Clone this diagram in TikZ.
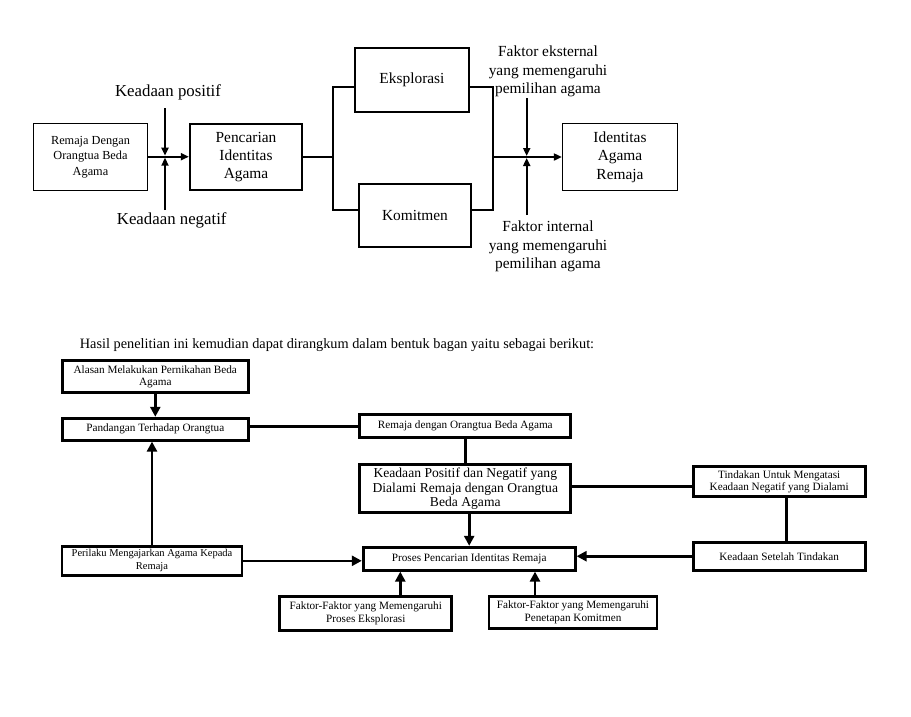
\documentclass[tikz,border=0pt]{standalone}
\usepackage{fontspec}
\setmainfont{Liberation Serif}
\usetikzlibrary{arrows.meta}

\begin{document}
\begin{tikzpicture}[x=1pt, y=-1pt,
	kotak/.style={draw, line width=#1, align=center, inner sep=0pt},
	kotak/.default=2pt,
	besar/.style={font=\fontsize{15.4}{18.4}\selectfont},
	kecil/.style={font=\fontsize{11.2}{12.7}\selectfont},
	panah/.style={-{Triangle[length=8pt, width=7pt]}, line width=1.9pt},
	panahb/.style={-{Triangle[length=10pt, width=10pt]}, line width=2.6pt}]
	\useasboundingbox (0,0) rectangle (911,716);
	% bagan pertama
	\node [kotak=1.6pt, minimum width=114pt, minimum height=67pt, font=\fontsize{12.3}{15.7}\selectfont] (rdoa) at (90.5,157) {Remaja Dengan\\Orangtua Beda\\Agama};
	\node [kotak=2.3pt, besar, minimum width=112pt, minimum height=66pt] (pia) at (246,157) {Pencarian\\Identitas\\Agama};
	\node [kotak, besar, minimum width=114pt, minimum height=64pt] (eks) at (412,80) {Eksplorasi};
	\node [kotak, besar, minimum width=112pt, minimum height=63pt] (kom) at (415,215.5) {Komitmen};
	\node [kotak=1.3pt, besar, minimum width=115pt, minimum height=67pt] (ida) at (620,157) {Identitas\\Agama\\Remaja};
	\node [font=\fontsize{16.8}{20}\selectfont] (kpos) at (168,92.7) {Keadaan positif};
	\node [font=\fontsize{16.8}{20}\selectfont] (kneg) at (171.7,220) {Keadaan negatif};
	\node [besar, align=center] (fext) at (548,71.7) {Faktor eksternal\\yang memengaruhi\\pemilihan agama};
	\node [besar, align=center] (fint) at (548,246.7) {Faktor internal\\yang memengaruhi\\pemilihan agama};
	\coordinate (j1) at (165,156.7);
	\coordinate (bki) at (333,157);
	\coordinate (bka) at (492.7,157);
	\coordinate (j2) at (526.7,157);
	\draw [panah] (rdoa.east |- j1) -- (pia.west |- j1);
	\draw [panah, shorten >=1pt] (j1 |- 0,108) -- (j1);
	\draw [panah, shorten >=1pt] (j1 |- 0,210) -- (j1);
	\draw [line width=1.9pt] (pia.east |- bki) -- (bki);
	\draw [line width=1.9pt] (eks.west |- 0,86.7) -| (bki) |- (kom.west |- 0,210);
	\draw [line width=1.9pt] (eks.east |- 0,86.7) -| (bka) |- (kom.east |- 0,210);
	\draw [panah] (bka) -- (ida.west |- bka);
	\draw [panah, shorten >=1pt] (j2 |- 0,98) -- (j2);
	\draw [panah, shorten >=1pt] (j2 |- 0,215) -- (j2);
	% bagan kedua
	\node [font=\fontsize{14.3}{16}\selectfont] (hasil) at (337,345) {Hasil penelitian ini kemudian dapat dirangkum dalam bentuk bagan yaitu sebagai berikut:};
	\node [kotak=2.8pt, kecil, minimum width=186pt, minimum height=32pt] (alasan) at (155.3,376.8) {Alasan Melakukan Pernikahan Beda\\Agama};
	\node [kotak=2.8pt, kecil, minimum width=186pt, minimum height=22pt] (pandangan) at (155.3,429.2) {Pandangan Terhadap Orangtua};
	\node [kotak=2.8pt, kecil, minimum width=211pt, minimum height=23pt] (rdoab) at (465.3,426.3) {Remaja dengan Orangtua Beda Agama};
	\node [kotak=2.8pt, font=\fontsize{13.6}{14.4}\selectfont, minimum width=211pt, minimum height=48pt] (keadaan) at (465.3,488.8) {Keadaan Positif dan Negatif yang\\Dialami Remaja dengan Orangtua\\Beda Agama};
	\node [kotak=2.8pt, kecil, minimum width=212pt, minimum height=23pt] (proses) at (469.2,558.7) {Proses Pencarian Identitas Remaja};
	\node [kotak=2.8pt, kecil, minimum width=172pt, minimum height=30pt] (tindakan) at (779.2,481.7) {Tindakan Untuk Mengatasi\\Keadaan Negatif yang Dialami};
	\node [kotak=2.8pt, kecil, minimum width=172pt, minimum height=28pt] (setelah) at (779.2,556.2) {Keadaan Setelah Tindakan};
	\node [kotak=2.8pt, font=\fontsize{10.5}{12.7}\selectfont, minimum width=180pt, minimum height=29pt] (perilaku) at (152,560.8) {Perilaku Mengajarkan Agama Kepada\\Remaja};
	\node [kotak=2.8pt, kecil, minimum width=172pt, minimum height=34pt] (fek) at (365.8,613.3) {Faktor-Faktor yang Memengaruhi\\Proses Eksplorasi};
	\node [kotak=2.8pt, kecil, minimum width=168pt, minimum height=32pt] (fkm) at (573,612.5) {Faktor-Faktor yang Memengaruhi\\Penetapan Komitmen};
	\draw [panahb] (alasan) -- (pandangan);
	\draw [line width=2.6pt] (pandangan.east |- rdoab.west) -- (rdoab.west);
	\draw [line width=2.6pt] (rdoab.south) -- (rdoab.south |- keadaan.north);
	\draw [panahb] (keadaan.south -| proses.north) -- (proses.north);
	\draw [line width=2.6pt] (keadaan.east |- 0,486.5) -- (tindakan.west |- 0,486.5);
	\draw [line width=2.6pt] ([xshift=7.5pt]tindakan.south) -- ([xshift=7.5pt]setelah.north);
	\draw [panahb] (setelah.west) -- (setelah.west -| proses.east);
	\draw [panahb] (perilaku.east) -- (perilaku.east -| proses.west);
	\draw [panahb] (perilaku.north) -- (perilaku.north |- pandangan.south);
	\draw [panahb] ([xshift=34.5pt]fek.north) -- ([xshift=34.5pt]fek.north |- proses.south);
	\draw [panahb] ([xshift=-38pt]fkm.north) -- ([xshift=-38pt]fkm.north |- proses.south);
\end{tikzpicture}
\end{document}
